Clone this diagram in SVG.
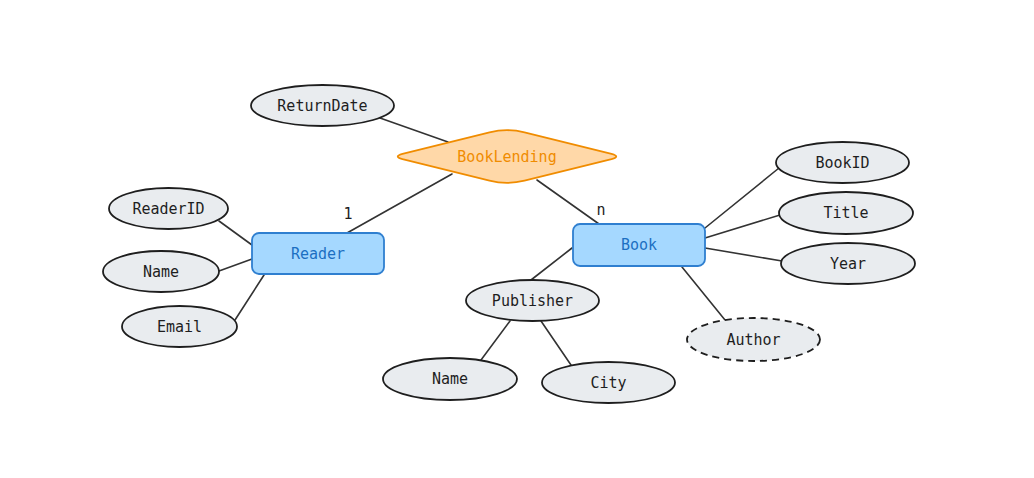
<svg xmlns="http://www.w3.org/2000/svg" width="1034" height="478" viewBox="0 0 1034 478">
<style>
text{font-family:"DejaVu Sans Mono","Liberation Mono",monospace;font-size:15px;text-anchor:middle;dominant-baseline:central;fill:#1e1e1e}
.attr{fill:#e9ecef;stroke:#1e1e1e;stroke-width:1.8}
.dash{stroke-dasharray:7 5}
.ent{fill:#a5d8ff;stroke:#2f7fd0;stroke-width:1.8}
.ent-t{fill:#1c6fc2}
.rel{fill:#ffd8a8;stroke:#f08c00;stroke-width:1.8}
.rel-t{fill:#f08c00}
#connectors line{stroke:#333;stroke-width:1.6;stroke-linecap:round}
</style>
<rect width="1034" height="478" fill="#ffffff"/>
<g id="connectors">
<line x1="380" y1="118" x2="448" y2="142"/>
<line x1="452" y1="174" x2="347" y2="233"/>
<line x1="537" y1="180" x2="599" y2="224"/>
<line x1="219" y1="221" x2="252" y2="245"/>
<line x1="219" y1="271" x2="252" y2="259"/>
<line x1="235" y1="320" x2="264" y2="275"/>
<line x1="572" y1="248" x2="531" y2="280"/>
<line x1="510" y1="321" x2="481" y2="360"/>
<line x1="541" y1="321" x2="571" y2="365"/>
<line x1="705" y1="228" x2="779" y2="168"/>
<line x1="705" y1="238" x2="780" y2="215"/>
<line x1="705" y1="248" x2="782" y2="261"/>
<line x1="682" y1="267" x2="725" y2="320"/>
<text x="348" y="214">1</text>
<text x="601" y="210">n</text>
</g>
<g id="ReturnDate"><ellipse class="attr" cx="322.5" cy="105.5" rx="71.5" ry="20.5"/><text x="322.5" y="105.5">ReturnDate</text></g>
<g id="BookLending"><path class="rel" d="M 402.5,153.8 L 489.5,132.4 Q 507,128 524.5,132.4 L 611.5,153.8 Q 621,156.5 611.5,159.2 L 524.5,180.6 Q 507,185 489.5,180.6 L 402.5,159.2 Q 393,156.5 402.5,153.8 Z"/><text class="rel-t" x="507" y="157">BookLending</text></g>
<g id="Reader"><rect class="ent" x="252" y="233" width="132" height="41" rx="7"/><text class="ent-t" x="318" y="253.5">Reader</text></g>
<g id="Book"><rect class="ent" x="573" y="224" width="132" height="42" rx="7"/><text class="ent-t" x="639" y="245">Book</text></g>
<g id="ReaderID"><ellipse class="attr" cx="168.5" cy="208.5" rx="59.5" ry="20.5"/><text x="168.5" y="208.5">ReaderID</text></g>
<g id="ReaderName"><ellipse class="attr" cx="161" cy="271.5" rx="58" ry="20.5"/><text x="161" y="271.5">Name</text></g>
<g id="Email"><ellipse class="attr" cx="179.5" cy="326.5" rx="57.5" ry="20.5"/><text x="179.5" y="326.5">Email</text></g>
<g id="Publisher"><ellipse class="attr" cx="532.5" cy="300.5" rx="66.5" ry="20.5"/><text x="532.5" y="300.5">Publisher</text></g>
<g id="PublisherName"><ellipse class="attr" cx="450" cy="379" rx="67" ry="21"/><text x="450" y="379">Name</text></g>
<g id="City"><ellipse class="attr" cx="608.5" cy="382.5" rx="66.5" ry="20.5"/><text x="608.5" y="382.5">City</text></g>
<g id="BookID"><ellipse class="attr" cx="842.5" cy="162.5" rx="66.5" ry="20.5"/><text x="842.5" y="162.5">BookID</text></g>
<g id="Title"><ellipse class="attr" cx="846" cy="213" rx="67" ry="21"/><text x="846" y="213">Title</text></g>
<g id="Year"><ellipse class="attr" cx="848" cy="263.5" rx="67" ry="20.5"/><text x="848" y="263.5">Year</text></g>
<g id="Author"><ellipse class="attr dash" cx="753.5" cy="339.5" rx="66.5" ry="21.5"/><text x="753.5" y="339.5">Author</text></g>
</svg>
